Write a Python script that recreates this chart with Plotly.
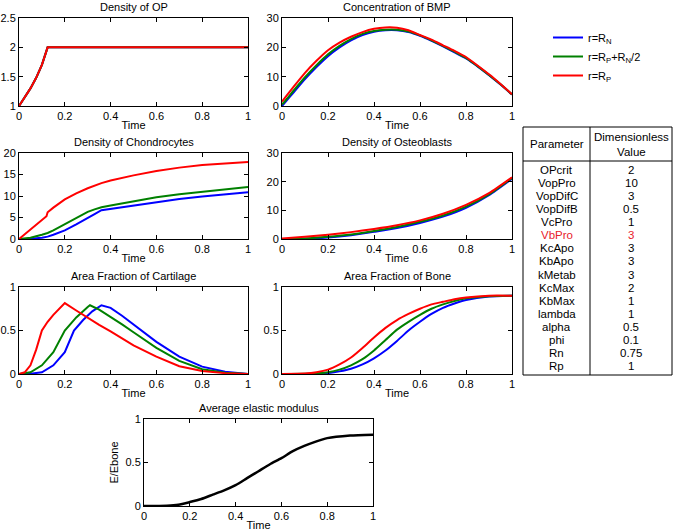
import plotly.graph_objects as go

# ---- data ----
series_names = ["r=R<sub>N</sub>", "r=R<sub>P</sub>+R<sub>N</sub>/2", "r=R<sub>P</sub>"]
series_colors = ["#0000ff", "#008000", "#ff0000"]

t_op = [0, 0.025, 0.05, 0.075, 0.1, 0.125, 0.2, 0.4, 0.6, 0.8, 1.0]
op_rn = [1, 1.14, 1.30, 1.48, 1.70, 2.0, 2.0, 2.0, 2.0, 2.0, 2.0]
op_rpn = [1, 1.14, 1.30, 1.48, 1.70, 2.0, 2.0, 2.0, 2.0, 2.0, 2.0]
op_rp = [1, 1.14, 1.30, 1.48, 1.70, 2.0, 2.0, 2.0, 2.0, 2.0, 2.0]

t_bmp = [0, 0.02, 0.05, 0.1, 0.15, 0.2, 0.25, 0.3, 0.35, 0.4, 0.45, 0.5, 0.55,
         0.6, 0.65, 0.7, 0.75, 0.8, 0.85, 0.9, 0.95, 1.0]
bmp_rn = [0, 1.8, 4.6, 9.2, 13.3, 17.0, 20.0, 22.4, 24.2, 25.3, 25.8, 25.8, 25.2,
          23.9, 22.2, 20.3, 18.3, 16.2, 13.5, 10.5, 7.3, 3.9]
bmp_rpn = [0.5, 2.3, 5.2, 9.8, 13.9, 17.6, 20.5, 22.8, 24.6, 25.6, 26.0, 26.0, 25.4,
           24.1, 22.4, 20.5, 18.5, 16.4, 13.6, 10.6, 7.4, 3.95]
bmp_rp = [1.5, 3.5, 6.5, 11.3, 15.4, 19.0, 21.6, 23.6, 25.2, 26.3, 26.8, 26.7, 25.8,
          24.2, 22.6, 20.7, 18.8, 16.7, 13.8, 10.8, 7.5, 4.0]

t_ch = [0, 0.05, 0.1, 0.12, 0.125, 0.15, 0.2, 0.25, 0.3, 0.33, 0.36, 0.4, 0.5,
        0.6, 0.7, 0.8, 0.9, 1.0]
ch_rn = [0, 0.05, 0.3, 0.5, 0.55, 1.0, 2.0, 3.4, 4.8, 5.8, 6.7, 7.0, 7.8, 8.6,
         9.3, 9.9, 10.4, 10.9]
ch_rpn = [0, 0.3, 1.0, 1.3, 1.4, 2.0, 3.4, 4.9, 6.3, 6.9, 7.4, 7.8, 8.8, 9.7,
          10.4, 11.0, 11.6, 12.1]
ch_rp = [0, 2.2, 4.2, 5.3, 6.2, 7.3, 9.2, 10.6, 11.8, 12.4, 13.0, 13.6, 14.8, 15.8,
         16.6, 17.2, 17.6, 17.9]

t_ob = [0, 0.1, 0.2, 0.3, 0.4, 0.5, 0.6, 0.7, 0.8, 0.9, 1.0]
ob_rn = [0, 0.1, 0.5, 1.3, 2.5, 3.8, 5.6, 7.8, 10.9, 15.3, 21.0]
ob_rpn = [0, 0.2, 0.8, 1.6, 2.8, 4.2, 6.0, 8.2, 11.3, 15.6, 21.3]
ob_rp = [0.2, 0.8, 1.5, 2.4, 3.5, 4.8, 6.5, 8.8, 11.9, 16.0, 21.5]

t_ca_rn = [0, 0.05, 0.1, 0.15, 0.2, 0.24, 0.28, 0.32, 0.36, 0.4, 0.45, 0.5, 0.6,
           0.7, 0.8, 0.9, 1.0]
ca_rn = [0, 0.003, 0.02, 0.1, 0.25, 0.5, 0.62, 0.72, 0.79, 0.76, 0.67, 0.57, 0.37,
         0.2, 0.085, 0.025, 0]
t_ca_rpn = [0, 0.05, 0.1, 0.15, 0.2, 0.25, 0.3, 0.31, 0.35, 0.4, 0.45, 0.5, 0.6,
            0.7, 0.8, 0.9, 1.0]
ca_rpn = [0, 0.02, 0.1, 0.25, 0.5, 0.65, 0.77, 0.79, 0.74, 0.66, 0.57, 0.48, 0.3,
          0.15, 0.055, 0.015, 0]
t_ca_rp = [0, 0.025, 0.05, 0.075, 0.1, 0.125, 0.15, 0.175, 0.2, 0.25, 0.3, 0.35,
           0.4, 0.45, 0.5, 0.6, 0.7, 0.8, 0.9, 1.0]
ca_rp = [0, 0.02, 0.1, 0.28, 0.5, 0.6, 0.68, 0.75, 0.815, 0.73, 0.645, 0.565,
         0.49, 0.41, 0.33, 0.2, 0.09, 0.035, 0.01, 0]

t_bo = [0, 0.1, 0.15, 0.2, 0.25, 0.3, 0.35, 0.4, 0.45, 0.5, 0.55, 0.6, 0.65, 0.7,
        0.75, 0.8, 0.9, 1.0]
bo_rn = [0, 0.001, 0.004, 0.01, 0.03, 0.06, 0.11, 0.18, 0.27, 0.38, 0.5, 0.6, 0.69,
         0.76, 0.81, 0.85, 0.89, 0.9]
bo_rpn = [0, 0.002, 0.007, 0.02, 0.05, 0.1, 0.17, 0.27, 0.39, 0.51, 0.6, 0.68, 0.75,
          0.8, 0.84, 0.87, 0.895, 0.9]
bo_rp = [0, 0.005, 0.02, 0.05, 0.11, 0.19, 0.3, 0.42, 0.53, 0.62, 0.69, 0.75, 0.8,
         0.83, 0.86, 0.88, 0.9, 0.9]

t_em = [0, 0.1, 0.15, 0.2, 0.25, 0.3, 0.35, 0.4, 0.45, 0.5, 0.55, 0.6, 0.65, 0.7,
        0.75, 0.8, 0.9, 1.0]
em = [0, 0.004, 0.015, 0.045, 0.08, 0.13, 0.18, 0.24, 0.32, 0.4, 0.48, 0.55, 0.63,
      0.69, 0.74, 0.78, 0.81, 0.82]

param_names = ["OPcrit", "VopPro", "VopDifC", "VopDifB", "VcPro", "VbPro", "KcApo",
               "KbApo", "kMetab", "KcMax", "KbMax", "lambda", "alpha", "phi", "Rn", "Rp"]
param_values = ["2", "10", "3", "0.5", "1", "3", "3", "3", "3", "2", "1", "1",
                "0.5", "0.1", "0.75", "1"]
highlight_param = "VbPro"

W, H = 674, 532
FONT = "Liberation Sans, Arial, sans-serif"


def px_x(v):
    return v / W


def px_y(v):
    return 1 - v / H


# panel boxes in pixels: (left, right, top, bottom)
panels = {
    1: (19, 248, 18, 106),
    2: (282, 512, 18, 106),
    3: (19, 248, 153, 239),
    4: (282, 512, 153, 239),
    5: (19, 248, 287, 374),
    6: (282, 512, 287, 374),
    7: (144, 373, 419, 506),
}
titles = {
    1: "Density of OP",
    2: "Concentration of BMP",
    3: "Density of Chondrocytes",
    4: "Density of Osteoblasts",
    5: "Area Fraction of Cartilage",
    6: "Area Fraction of Bone",
    7: "Average elastic modulus",
}
yranges = {1: (1, 2.5, 0.5), 2: (0, 30, 10), 3: (0, 20, 5), 4: (0, 30, 10),
           5: (0, 1, 0.5), 6: (0, 1, 0.5), 7: (0, 1, 0.5)}

panel_data = {
    1: [(t_op, op_rn), (t_op, op_rpn), (t_op, op_rp)],
    2: [(t_bmp, bmp_rn), (t_bmp, bmp_rpn), (t_bmp, bmp_rp)],
    3: [(t_ch, ch_rn), (t_ch, ch_rpn), (t_ch, ch_rp)],
    4: [(t_ob, ob_rn), (t_ob, ob_rpn), (t_ob, ob_rp)],
    5: [(t_ca_rn, ca_rn), (t_ca_rpn, ca_rpn), (t_ca_rp, ca_rp)],
    6: [(t_bo, bo_rn), (t_bo, bo_rpn), (t_bo, bo_rp)],
}
smooth = {1: False, 2: True, 3: False, 4: True, 5: False, 6: True}

fig = go.Figure()

for k, series in panel_data.items():
    sfx = "" if k == 1 else str(k)
    for i, (tx, ty) in enumerate(series):
        fig.add_trace(go.Scatter(
            x=tx, y=ty, mode="lines", name=series_names[i],
            line=dict(color=series_colors[i], width=2,
                      shape="spline" if smooth[k] else "linear", smoothing=0.6),
            showlegend=(k == 1), xaxis="x" + sfx, yaxis="y" + sfx,
        ))

fig.add_trace(go.Scatter(
    x=t_em, y=em, mode="lines", line=dict(color="black", width=2.5, shape="spline", smoothing=0.6),
    showlegend=False, xaxis="x7", yaxis="y7",
))

annotations = []
for k, (l, r, t, b) in panels.items():
    sfx = "" if k == 1 else str(k)
    y0, y1, dy = yranges[k]
    common = dict(showline=True, linecolor="black", linewidth=1, mirror="allticks",
                  ticks="inside", ticklen=4, tickcolor="black", showgrid=False,
                  zeroline=False, automargin=False,
                  tickfont=dict(family=FONT, size=11, color="black"))
    fig.layout["xaxis" + sfx] = dict(
        domain=[px_x(l), px_x(r)], range=[0, 1], dtick=0.2, tick0=0,
        anchor="y" + sfx,
        title=dict(text="Time", standoff=0, font=dict(family=FONT, size=11, color="black")),
        **common)
    fig.layout["yaxis" + sfx] = dict(
        domain=[px_y(b), px_y(t)], range=[y0, y1], dtick=dy, tick0=y0,
        anchor="x" + sfx, **common)
    annotations.append(dict(
        text=titles[k], x=px_x((l + r) / 2), y=px_y(t - 3), xref="paper", yref="paper",
        xanchor="center", yanchor="bottom", showarrow=False,
        font=dict(family=FONT, size=11, color="black")))

fig.layout.yaxis7.title = dict(text="E/Ebone", standoff=4,
                               font=dict(family=FONT, size=11, color="black"))

# parameter table
tl, tr, tt, tb = 523, 672, 127, 375
tmid, thead = 590, 161
shapes = [
    dict(type="rect", xref="paper", yref="paper", x0=px_x(tl), x1=px_x(tr),
         y0=px_y(tb), y1=px_y(tt), line=dict(color="black", width=1)),
    dict(type="line", xref="paper", yref="paper", x0=px_x(tl), x1=px_x(tr),
         y0=px_y(thead), y1=px_y(thead), line=dict(color="black", width=1)),
    dict(type="line", xref="paper", yref="paper", x0=px_x(tmid), x1=px_x(tmid),
         y0=px_y(tb), y1=px_y(tt), line=dict(color="black", width=1)),
]
c1 = (tl + tmid) / 2
c2 = (tmid + tr) / 2
TFS = 11.5
cell = dict(xref="paper", yref="paper", showarrow=False, xanchor="center", yanchor="middle")
annotations.append(dict(text="Parameter", x=px_x(c1), y=px_y((tt + thead) / 2),
                        font=dict(family=FONT, size=TFS, color="black"), **cell))
annotations.append(dict(text="Dimensionless<br>Value", x=px_x(c2), y=px_y((tt + thead) / 2),
                        font=dict(family=FONT, size=TFS, color="black"), **cell))
row_h = (tb - thead - 4) / len(param_names)
for i, (name, val) in enumerate(zip(param_names, param_values)):
    col = "#e8202a" if name == highlight_param else "black"
    yy = px_y(thead + 2 + row_h * (i + 0.5))
    for cx, txt in ((c1, name), (c2, val)):
        annotations.append(dict(text=txt, x=px_x(cx), y=yy,
                                font=dict(family=FONT, size=TFS, color=col), **cell))

fig.update_layout(
    width=W, height=H, autosize=False,
    margin=dict(l=0, r=0, t=0, b=0),
    paper_bgcolor="white", plot_bgcolor="white",
    font=dict(family=FONT, size=11, color="black"),
    shapes=shapes, annotations=annotations,
    legend=dict(x=px_x(548), y=px_y(23), xanchor="left", yanchor="top",
                bgcolor="rgba(0,0,0,0)", font=dict(family=FONT, size=11),
                tracegroupgap=0, itemwidth=30),
)

fig.write_html("out.html", config={"displayModeBar": False},
               post_script="document.body.style.margin='0';document.body.style.overflow='hidden';")
